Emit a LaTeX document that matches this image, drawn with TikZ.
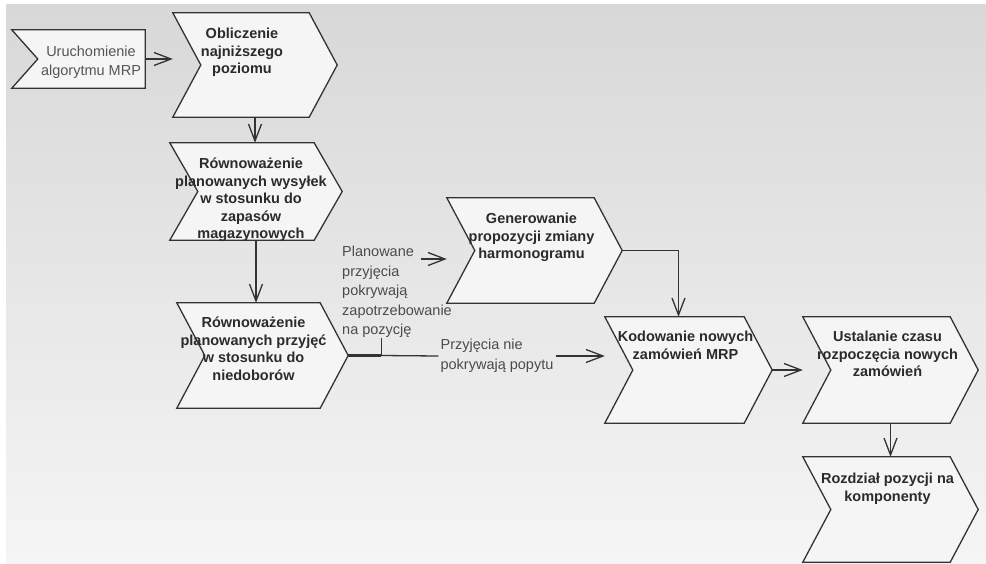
\documentclass[tikz,border=0pt]{standalone}
\usepackage{fontspec}
\setmainfont{Liberation Sans}
\usetikzlibrary{arrows.meta,positioning,calc}
\definecolor{bgtop}{HTML}{D8D8D8}
\definecolor{bgbot}{HTML}{F5F5F5}
\definecolor{boxfill}{HTML}{F5F5F5}
\definecolor{edge}{HTML}{333333}
\definecolor{txt}{HTML}{2B2B2B}
\tikzset{
  chev/.style={inner sep=0pt},
  chevline/.style={draw=edge,fill=boxfill,line width=1.3pt},
  boxtext/.style={font=\bfseries\fontsize{14.5}{17.5}\selectfont,text=txt,align=center,inner sep=0pt},
  lbltext/.style={font=\fontsize{14.5}{19.5}\selectfont,text=txt!85,align=left,inner sep=0pt},
  conn/.style={draw=edge,line width=1.3pt},
}

\begin{document}
\begin{tikzpicture}[x=1pt,y=-1pt,>={Straight Barb[length=17pt,width=13pt]}]
\useasboundingbox (0,0) rectangle (986,563);
\shade[top color=bgtop,bottom color=bgbot] (6,4) rectangle (986,563);

\node[chev,minimum width=133pt,minimum height=58pt] (A) at (78.5,59) {};
\node[chev,minimum width=164pt,minimum height=104pt] (B) at (255,65) {};
\node[chev,minimum width=172pt,minimum height=97pt] (C) at (256,191.5) {};
\node[chev,minimum width=171pt,minimum height=105pt] (D) at (262.5,355.5) {};
\node[chev,minimum width=175pt,minimum height=105pt] (E) at (534.5,250.5) {};
\node[chev,minimum width=167pt,minimum height=106pt] (F) at (688.5,370) {};
\node[chev,minimum width=175pt,minimum height=106pt] (G) at (890.5,370) {};
\node[chev,minimum width=175pt,minimum height=105pt] (H) at (890.5,509.5) {};

\filldraw[chevline] (A.north west) -- (A.north east) -- (A.south east) -- (A.south west) -- ([xshift=26pt]A.west) -- cycle;
\foreach \n in {B,C,D,E,F,G,H}
  \filldraw[chevline] (\n.north west) -- ([xshift=-28pt]\n.north east) -- (\n.east)
    -- ([xshift=-28pt]\n.south east) -- (\n.south west) -- ([xshift=28pt]\n.west) -- cycle;

\node[lbltext,align=center,text=txt!80] (At) at (91,62) {Uruchomienie\\algorytmu MRP};
\node[boxtext,below=15pt of B.north,xshift=-13pt] (Bt) {Obliczenie\\najniższego\\poziomu};
\node[boxtext,below=15pt of C.north,xshift=-5pt] (Ct) {Równoważenie\\planowanych wysyłek\\w stosunku do\\zapasów\\magazynowych};
\node[boxtext,below=14pt of D.north,xshift=-9pt] (Dt) {Równoważenie\\planowanych przyjęć\\w stosunku do\\niedoborów};
\node[boxtext,below=15pt of E.north,xshift=-3pt] (Et) {Generowanie\\propozycji zmiany\\harmonogramu};
\node[boxtext,below=14pt of F.north,xshift=-3pt] (Ft) {Kodowanie nowych\\zamówień MRP};
\node[boxtext,below=14pt of G.north,xshift=-3pt] (Gt) {Ustalanie czasu\\rozpoczęcia nowych\\zamówień};
\node[boxtext,below=16pt of H.north,xshift=-3pt] (Ht) {Rozdział pozycji na\\komponenty};

\draw[conn,->] (A.east) -- (A.east -| B.west);
\draw[conn,->] (B.south) -- (B.south |- C.north);
\draw[conn,->] (C.south) -- (C.south |- D.north);
\draw[conn,->] (E.east) -| ([xshift=-10pt]F.north);
\draw[conn,->] (F.east) -- (G.west);
\draw[conn,->] (G.south) -- (H.north);

\coordinate (br) at ([xshift=33pt]D.east);
\node[lbltext,anchor=north west] (P) at (342,246) {Planowane\\przyjęcia\\pokrywają\\zapotrzebowanie\\na pozycję};
\node[lbltext,inner sep=2pt] (N) at (497,356) {Przyjęcia nie\\pokrywają popytu};
\draw[conn,line width=2.6pt] (D.east) -- (br);
\draw[conn] (br) -- (br |- P.south);
\draw[conn] (br) -- (N.west);
\draw[conn,->] (N.east) -- (N.east -| F.west);
\coordinate (pl) at (421,259);
\draw[conn,->] (pl) -- (pl -| E.west);
\end{tikzpicture}
\end{document}
